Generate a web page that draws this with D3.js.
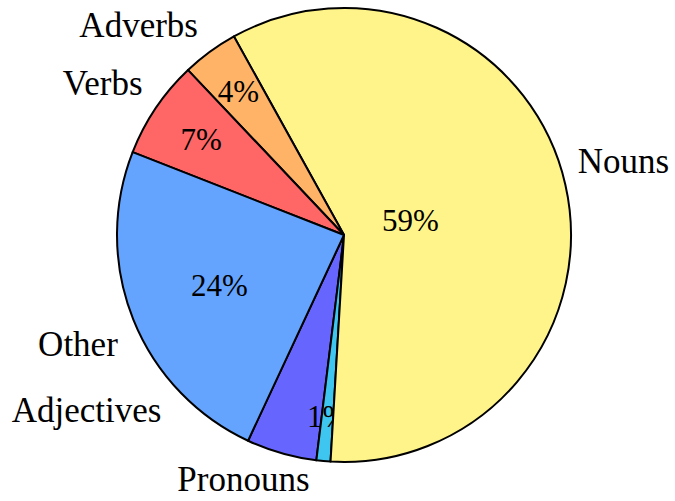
<!DOCTYPE html>
<html><head><meta charset="utf-8">
<script src="https://cdn.jsdelivr.net/npm/d3@7"></script>
<style>body{margin:0;background:#fff}svg{display:block}</style>
</head><body>
<svg id="chart" width="675" height="501"></svg>
<script>
// Data (drawing order, counter-clockwise as in the reference)
const categories = ["Adjectives", "Pronouns", "Nouns", "Adverbs", "Verbs", "Other"];
const values = [5, 1, 59, 4, 7, 24];
const numberLabels = ["", "1%", "59%", "4%", "7%", "24%"];
const colors = ["#6666FF", "#3FC6F0", "#FFF48A", "#FFB366", "#FF6666", "#64A4FF"];

// Layout
const W = 675, H = 501, cx = 344, cy = 235, R = 227;
const deg = Math.PI / 180;
const startDeg = 205;
const labelFont = "'Liberation Serif', 'Times New Roman', serif";
const labelNudge = {
  Nouns: [-9, -18], Adverbs: [1, -8], Verbs: [5, -12],
  Other: [5, 18], Pronouns: [-78, -2.5], Adjectives: [-114, -63]
};

const svg = d3.select("#chart");
svg.append("rect").attr("width", W).attr("height", H).attr("fill", "#fff");
const g = svg.append("g").attr("transform", `translate(${cx},${cy})`);

const data = categories.map((c, i) => ({ c, v: values[i], num: numberLabels[i], col: colors[i] }));
const pie = d3.pie().sort(null).value(d => d.v)
  .startAngle(startDeg * deg).endAngle((startDeg - 360) * deg);
const arcs = pie(data);
const arc = d3.arc().innerRadius(0).outerRadius(R);

function numberPos(a) {
  const span = Math.abs(a.endAngle - a.startAngle) / deg;
  const inner = Math.max(Math.min((span - 10) / 110 * (-0.3), 0), -0.5) + 0.8;
  const mid = (a.startAngle + a.endAngle) / 2;
  const r = inner * R;
  return [r * Math.sin(mid), -r * Math.cos(mid)];
}

// each slice: fill, then its number (later slices may overlap earlier numbers)
arcs.forEach(a => {
  g.append("path").attr("d", arc(a))
    .attr("fill", a.data.col).attr("stroke", "#000")
    .attr("stroke-width", 2).attr("stroke-linejoin", "round");
  if (a.data.num) {
    const [x, y] = numberPos(a);
    g.append("text").attr("x", x).attr("y", y + 11)
      .attr("text-anchor", "middle")
      .style("font-family", labelFont).style("font-size", "31px").attr("fill", "#000")
      .text(a.data.num);
  }
});

// Category labels outside the pie
const rL = R + 22;
arcs.forEach(a => {
  const mid = (a.startAngle + a.endAngle) / 2;
  const s = Math.sin(mid);
  const x = rL * s, y = -rL * Math.cos(mid) + 11;
  const anchor = s > 0.2 ? "start" : (s < -0.2 ? "end" : "middle");
  const n = labelNudge[a.data.c] || [0, 0];
  g.append("text").attr("x", x + n[0]).attr("y", y + n[1])
    .attr("text-anchor", anchor)
    .style("font-family", labelFont).style("font-size", "35px").attr("fill", "#000")
    .text(a.data.c);
});
</script>
</body></html>
